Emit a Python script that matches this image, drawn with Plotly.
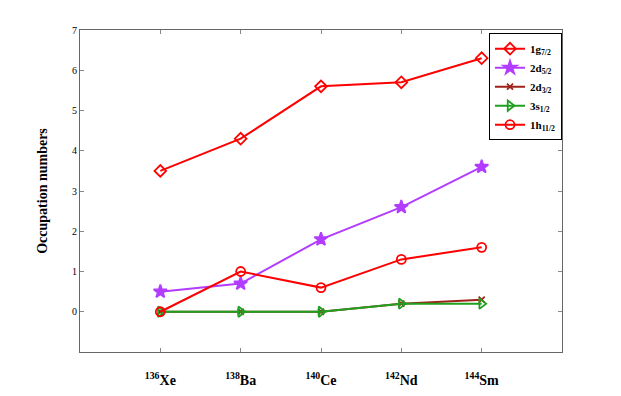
import plotly.graph_objects as go

# nuclei on the x axis
nuclei = ["136", "138", "140", "142", "144"]
symbols = ["Xe", "Ba", "Ce", "Nd", "Sm"]
xpos = [1, 2, 3, 4, 5]

# occupation numbers per orbital
g72 = [3.5, 4.3, 5.6, 5.7, 6.3]
d52 = [0.5, 0.7, 1.8, 2.6, 3.6]
d32 = [0.0, 0.0, 0.0, 0.2, 0.3]
s12 = [0.0, 0.0, 0.0, 0.2, 0.2]
h112 = [0.0, 1.0, 0.6, 1.3, 1.6]

tick_text = ["<b><sup>%s</sup>%s</b>" % (a, s) for a, s in zip(nuclei, symbols)]

series = [
    ("<b>1g<sub>7/2</sub></b>", g72, "#ff0000", "diamond-open", 9),
    ("<b>2d<sub>5/2</sub></b>", d52, "#b23cff", "star", 10),
    ("<b>2d<sub>3/2</sub></b>", d32, "#a0201a", "x-thin-open", 6),
    ("<b>3s<sub>1/2</sub></b>", s12, "#1fa01f", "triangle-right-open", 9),
    ("<b>1h<sub>11/2</sub></b>", h112, "#ff0000", "circle-open", 9),
]

fig = go.Figure()
for name, vals, col, sym, size in series:
    fig.add_trace(go.Scatter(
        x=xpos, y=vals, name=name, mode="lines+markers",
        line=dict(color=col, width=2),
        marker=dict(symbol=sym, size=size, color=col,
                    line=dict(color=col, width=1.8)),
    ))

axis_style = dict(showline=True, mirror="ticks", linecolor="#666666", linewidth=1,
                  ticks="inside", ticklen=4, tickcolor="#888888",
                  showgrid=False, zeroline=False, automargin=False)

fig.update_xaxes(range=[0, 6], tickvals=xpos, ticktext=tick_text,
                 ticklabelstandoff=15, tickfont=dict(size=14), **axis_style)
fig.update_yaxes(range=[-1, 7], tickvals=list(range(0, 8)),
                 tickfont=dict(size=10),
                 title=dict(text="<b>Occupation numbers</b>", font=dict(size=14), standoff=21),
                 **axis_style)

# page body adds an 8px offset, so margins are shifted to compensate
fig.update_layout(
    width=621, height=396,
    margin=dict(l=72, r=67, t=22, b=52),
    plot_bgcolor="white", paper_bgcolor="white",
    font=dict(family="Liberation Serif", color="black"),
    legend=dict(x=1, xanchor="right", y=0.99, yanchor="top",
                bordercolor="black", borderwidth=1, bgcolor="white",
                font=dict(size=11), tracegroupgap=0, itemwidth=30),
    showlegend=True,
)

fig.write_html("out.html")
